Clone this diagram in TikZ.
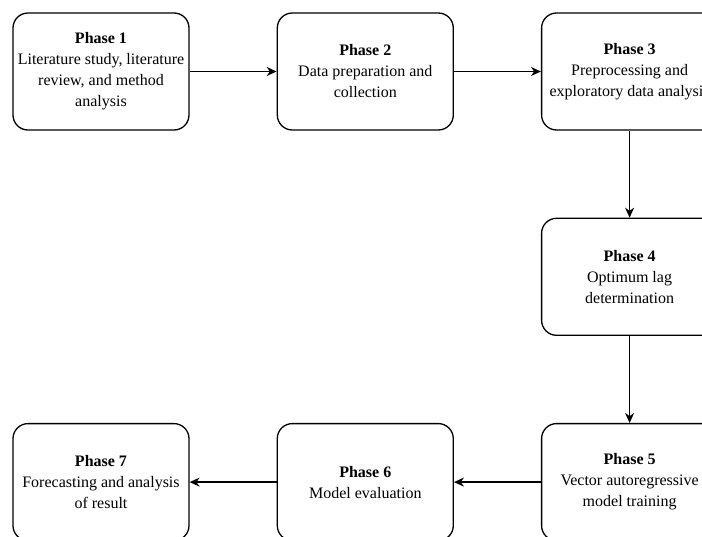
\documentclass[tikz,border=0pt]{standalone}
\usepackage{fontspec}
\setmainfont{Liberation Serif}
\usepackage{tikz}
\usetikzlibrary{positioning, arrows.meta}

\begin{document}
\begin{tikzpicture}[
  every node/.style={font=\fontsize{16}{21}\selectfont},
  phasebox/.style={
    rectangle, rounded corners=15pt,
    minimum width=176pt, minimum height=117pt,
    draw=black, line width=1.3pt,
    fill=white, align=center
  },
  flowarrow/.style={
    black, line width=1.3pt, -{Stealth[length=10pt, width=9pt]}
  },
]
\useasboundingbox (0,0) rectangle (702pt,-536pt);

% Top row
\node[phasebox] (p1) at (101pt,-71.5pt) {\textbf{Phase 1}\\Literature study, literature\\review, and method\\analysis};
\node[phasebox, right=87pt of p1] (p2) {\textbf{Phase 2}\\Data preparation and\\collection};
\node[phasebox, right=87pt of p2] (p3) {\textbf{Phase 3}\\Preprocessing and\\exploratory data analysis};

% Right column
\node[phasebox, below=87pt of p3] (p4) {\textbf{Phase 4}\\Optimum lag\\determination};
\node[phasebox, below=87pt of p4] (p5) {\textbf{Phase 5}\\Vector autoregressive\\model training};

% Bottom row
\node[phasebox, left=87pt of p5] (p6) {\textbf{Phase 6}\\Model evaluation};
\node[phasebox, left=87pt of p6] (p7) {\textbf{Phase 7}\\Forecasting and analysis\\of result};

% Connections
\foreach \a/\b in {p1/p2,p2/p3,p3/p4,p4/p5,p5/p6,p6/p7} {
  \draw[flowarrow] (\a) -- (\b);
}

\end{tikzpicture}
\end{document}
